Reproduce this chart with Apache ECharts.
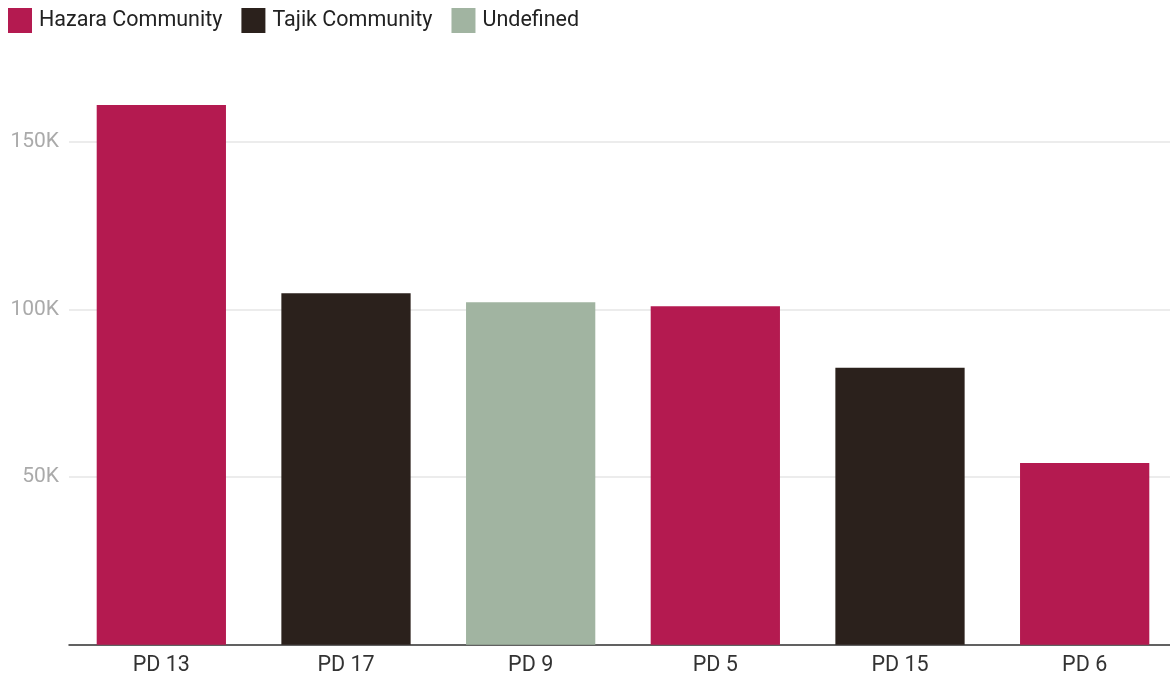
<!DOCTYPE html>
<html>
<head>
<meta charset="utf-8">
<script src="https://cdn.jsdelivr.net/npm/echarts@6/dist/echarts.min.js"></script>
<style>
html,body{margin:0;padding:0;background:#fff;}
#chart{width:1170px;height:677px;}
</style>
</head>
<body>
<div id="chart"></div>
<script>
var categories = ['PD 13', 'PD 17', 'PD 9', 'PD 5', 'PD 15', 'PD 6'];
var values = [160900, 104800, 102100, 100900, 82600, 54200];
var groups = ['Hazara Community', 'Tajik Community', 'Undefined', 'Hazara Community', 'Tajik Community', 'Hazara Community'];
var seriesNames = ['Hazara Community', 'Tajik Community', 'Undefined'];
var seriesColors = ['#b41a50', '#2b211c', '#a1b4a1'];
var yTicks = [0, 50000, 100000, 150000];
var yMax = 170000;

var series = seriesNames.map(function (name, si) {
  return {
    name: name,
    type: 'bar',
    stack: 'all',
    barWidth: '70%',
    itemStyle: { color: seriesColors[si] },
    data: values.map(function (v, i) { return groups[i] === name ? v : '-'; })
  };
});

var chart = echarts.init(document.getElementById('chart'), null, { renderer: 'canvas' });
chart.setOption({
  animation: false,
  textStyle: { fontFamily: 'Roboto' },
  legend: {
    left: 3, top: 3,
    itemWidth: 24, itemHeight: 25, itemGap: 19,
    icon: 'rect',
    textStyle: { fontSize: 21.5, color: '#222', fontFamily: 'Roboto', padding: [0, 0, 0, 2] },
    data: seriesNames
  },
  grid: { left: 69, right: -7, top: 74.5, bottom: 32.3, containLabel: false, outerBoundsMode: 'none' },
  xAxis: {
    type: 'category',
    data: categories,
    axisTick: { show: false },
    axisLine: { lineStyle: { color: '#333', width: 1.5 } },
    axisLabel: { fontSize: 21.5, color: '#333', margin: 10, fontFamily: 'Roboto' }
  },
  yAxis: {
    type: 'value',
    min: yTicks[0], max: yMax, interval: 50000,
    axisLine: { show: false },
    axisTick: { show: false },
    splitLine: { showMaxLine: false, lineStyle: { color: '#e6e6e6', width: 1.5 } },
    axisLabel: {
      fontSize: 21, color: '#aaa', margin: 10, fontFamily: 'Roboto',
      showMaxLabel: false,
      formatter: function (v) { return yTicks.indexOf(v) > 0 ? (v / 1000) + 'K' : ''; }
    }
  },
  series: series
});
</script>
</body>
</html>
